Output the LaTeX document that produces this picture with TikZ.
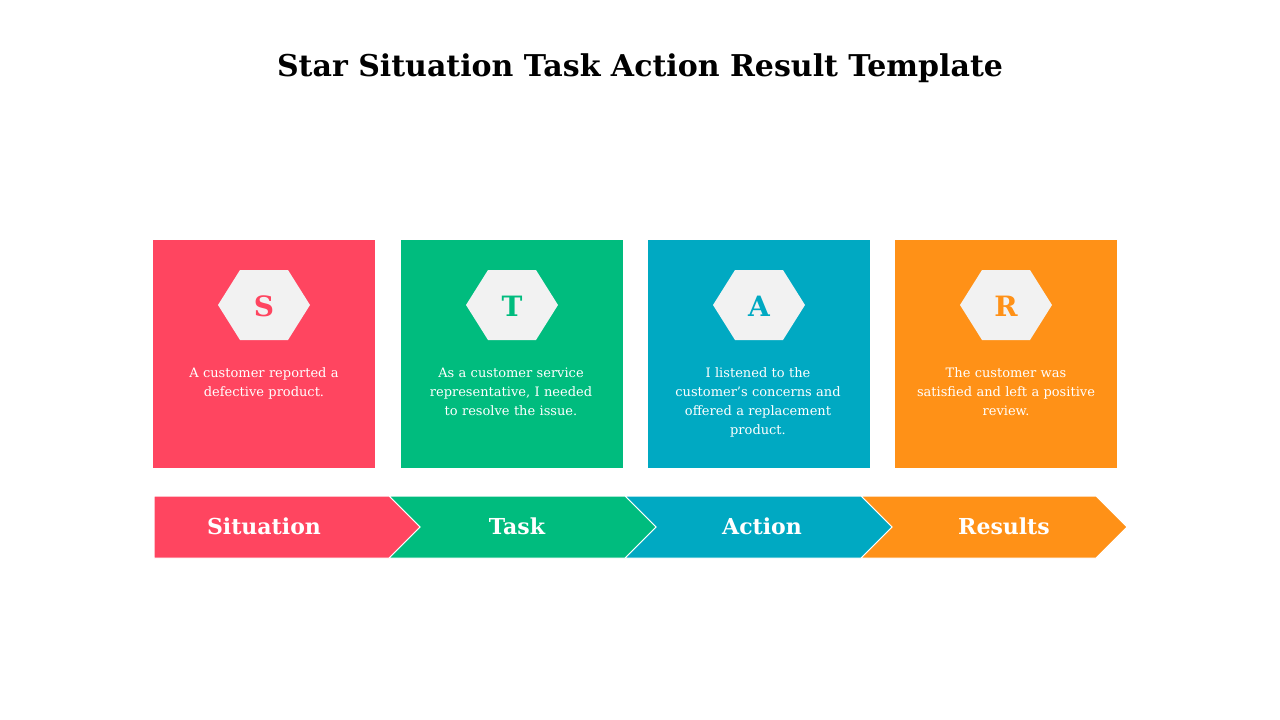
\documentclass[tikz,border=0pt]{standalone}
\usepackage{fontspec}
\setmainfont{DejaVu Serif}
\definecolor{cr}{HTML}{FF4560}
\definecolor{cg}{HTML}{00BC7E}
\definecolor{cb}{HTML}{00A9C2}
\definecolor{co}{HTML}{FF9117}
\definecolor{hx}{HTML}{F2F2F2}
\begin{document}
\begin{tikzpicture}[x=1pt,y=-1pt,
  body/.style={text=white,font=\fontsize{13}{19}\selectfont,align=center,text width=180pt},
  lbl/.style={text=white,font=\bfseries\fontsize{22}{26}\selectfont},
  let/.style={font=\bfseries\fontsize{28}{30}\selectfont}]
\useasboundingbox (0,0) rectangle (1280,720);
\node[font=\bfseries\fontsize{30}{34}\selectfont] (title) at (640,68) {Star Situation Task Action Result Template};
\foreach \x/\c/\L/\n in {153/cr/S/s,401/cg/T/t,648/cb/A/a,895/co/R/r}{
  \fill[\c] (\x,240) rectangle ++(222,228);
  \fill[hx] (\x+65,305) -- (\x+87,270) -- (\x+135,270) -- (\x+157,305) -- (\x+135,340) -- (\x+87,340) -- cycle;
  \node[let,text=\c] (\n) at (\x+111,306) {\L};
}
\node[body,anchor=north] (bs) at (264,364) {A customer reported a\\defective product.};
\node[body,anchor=north] (bt) at (511,364) {As a customer service\\representative, I needed\\to resolve the issue.};
\node[body,anchor=north] (ba) at (758,364) {I listened to the\\customer's concerns and\\offered a replacement\\product.};
\node[body,anchor=north] (br) at (1006,364) {The customer was\\satisfied and left a positive\\review.};
\fill[co,draw=white,line width=1pt] (861,496) -- (1096,496) -- (1127,527) -- (1096,558) -- (861,558) -- (892,527) -- cycle;
\fill[cb,draw=white,line width=1pt] (625,496) -- (861,496) -- (892,527) -- (861,558) -- (625,558) -- (656,527) -- cycle;
\fill[cg,draw=white,line width=1pt] (389,496) -- (625,496) -- (656,527) -- (625,558) -- (389,558) -- (420,527) -- cycle;
\fill[cr,draw=white,line width=1pt] (154,496) -- (389,496) -- (420,527) -- (389,558) -- (154,558) -- cycle;
\node[lbl] (l1) at (264,526) {Situation};
\node[lbl] (l2) at (517,526) {Task};
\node[lbl] (l3) at (762,526) {Action};
\node[lbl] (l4) at (1004,526) {Results};
\end{tikzpicture}
\end{document}
